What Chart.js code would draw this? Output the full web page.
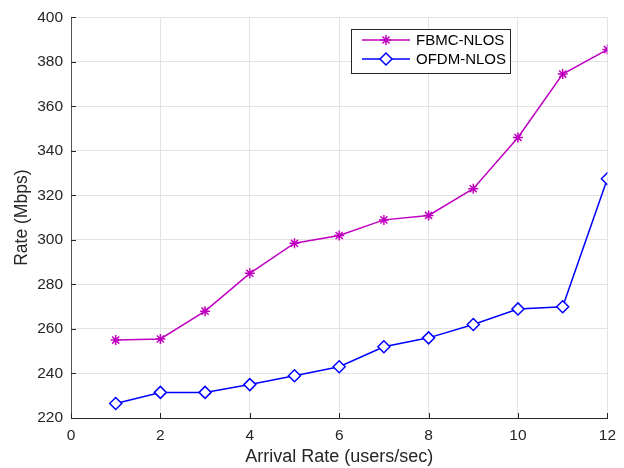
<!DOCTYPE html>
<html>
<head>
<meta charset="utf-8">
<script src="https://cdn.jsdelivr.net/npm/chart.js@4/dist/chart.umd.min.js"></script>
<style>
  html, body { margin: 0; padding: 0; background: #fff; }
  #wrap { width: 624px; height: 468px; }
</style>
</head>
<body>
<div id="wrap"><canvas id="myChart" width="624" height="468"></canvas></div>
<script>
// data
var arrivalRate = [1, 2, 3, 4, 5, 6, 7, 8, 9, 10, 11, 12];
var fbmcNlos = [255, 255.5, 268, 285, 298.5, 302, 309, 311, 323, 346, 374.5, 385.5];
var ofdmNlos = [226.5, 231.5, 231.5, 235, 239, 243, 252, 256, 262, 269, 270, 327.5];
var seriesNames = ["FBMC-NLOS", "OFDM-NLOS"];
var xTitle = "Arrival Rate (users/sec)";
var yTitle = "Rate (Mbps)";

var magenta = "#c000c0";
var blue = "#0000ff";
var axisColor = "#262626";
var fontFam = "'Liberation Sans', Arial, sans-serif";

function toPoints(xs, ys) {
    return xs.map(function (x, i) { return { x: x, y: ys[i] }; });
}

// MATLAB-like inward tick marks
var innerTicks = {
    id: "innerTicks",
    afterDatasetsDraw: function (chart) {
        var ctx = chart.ctx;
        var a = chart.chartArea;
        var xs = chart.scales.x, ys = chart.scales.y;
        ctx.save();
        ctx.strokeStyle = axisColor;
        ctx.lineWidth = 1;
        ctx.beginPath();
        xs.ticks.forEach(function (t) {
            var px = Math.round(xs.getPixelForValue(t.value)) + 0.5;
            ctx.moveTo(px, a.bottom);
            ctx.lineTo(px, a.bottom - 5);
        });
        ys.ticks.forEach(function (t) {
            var py = Math.round(ys.getPixelForValue(t.value)) + 0.5;
            ctx.moveTo(a.left, py);
            ctx.lineTo(a.left + 5, py);
        });
        ctx.stroke();
        ctx.restore();
    }
};

// boxed legend in the upper right
var boxLegend = {
    id: "boxLegend",
    afterDraw: function (chart) {
        var ctx = chart.ctx;
        var x0 = 351, y0 = 29, w = 159, h = 44;
        ctx.save();
        ctx.fillStyle = "#fff";
        ctx.fillRect(x0, y0, w, h);
        ctx.strokeStyle = axisColor;
        ctx.lineWidth = 1;
        ctx.strokeRect(x0 + 0.5, y0 + 0.5, w, h);
        chart.data.datasets.forEach(function (ds, i) {
            var cy = y0 + 11 + i * 19;
            ctx.strokeStyle = ds.borderColor;
            ctx.lineWidth = 1.5;
            ctx.beginPath();
            ctx.moveTo(x0 + 11, cy);
            ctx.lineTo(x0 + 59, cy);
            ctx.stroke();
            ctx.strokeStyle = ds.pointBorderColor;
            ctx.fillStyle = ds.pointBackgroundColor;
            Chart.helpers.drawPoint(ctx, {
                pointStyle: ds.pointStyle,
                radius: ds.pointRadius,
                borderWidth: ds.pointBorderWidth
            }, x0 + 35, cy);
            ctx.fillStyle = "#000";
            ctx.font = "15px " + fontFam;
            ctx.textBaseline = "middle";
            ctx.textAlign = "left";
            ctx.fillText(ds.label, x0 + 65, cy + 1);
        });
        ctx.restore();
    }
};

var ctx = document.getElementById("myChart").getContext("2d");
var chart = new Chart(ctx, {
    type: "line",
    data: {
        datasets: [
            {
                label: seriesNames[0],
                data: toPoints(arrivalRate, fbmcNlos),
                borderColor: magenta,
                backgroundColor: magenta,
                borderWidth: 1.5,
                pointStyle: "star",
                pointRadius: 5,
                pointBorderWidth: 1.5,
                pointBorderColor: magenta,
                pointBackgroundColor: magenta,
                tension: 0
            },
            {
                label: seriesNames[1],
                data: toPoints(arrivalRate, ofdmNlos),
                borderColor: blue,
                backgroundColor: "#fff",
                borderWidth: 1.5,
                pointStyle: "rectRot",
                pointRadius: 6,
                pointBorderWidth: 1.5,
                pointBorderColor: blue,
                pointBackgroundColor: "#fff",
                tension: 0
            }
        ]
    },
    options: {
        responsive: false,
        animation: false,
        layout: { padding: { top: 16, right: 16, left: 0, bottom: 0 } },
        plugins: {
            legend: { display: false },
            tooltip: { enabled: false }
        },
        scales: {
            x: {
                type: "linear",
                min: 0,
                max: 12,
                afterFit: function (s) { s.height = 50; },
                ticks: {
                    stepSize: 2,
                    color: axisColor,
                    padding: 8,
                    font: { family: fontFam, size: 15.5 }
                },
                grid: { color: "#e3e3e3", drawTicks: false },
                border: { color: axisColor, width: 1 },
                title: {
                    display: true,
                    text: xTitle,
                    color: axisColor,
                    padding: { top: 0, bottom: 0 },
                    font: { family: fontFam, size: 18 }
                }
            },
            y: {
                min: 220,
                max: 400,
                afterFit: function (s) { s.width = 71; },
                ticks: {
                    stepSize: 20,
                    color: axisColor,
                    padding: 8,
                    font: { family: fontFam, size: 15.5 }
                },
                grid: { color: "#e3e3e3", drawTicks: false },
                border: { color: "#555", width: 1 },
                title: {
                    display: true,
                    text: yTitle,
                    color: axisColor,
                    padding: { top: 12, bottom: 0 },
                    font: { family: fontFam, size: 17.5 }
                }
            }
        }
    },
    plugins: [innerTicks, boxLegend]
});
</script>
</body>
</html>
